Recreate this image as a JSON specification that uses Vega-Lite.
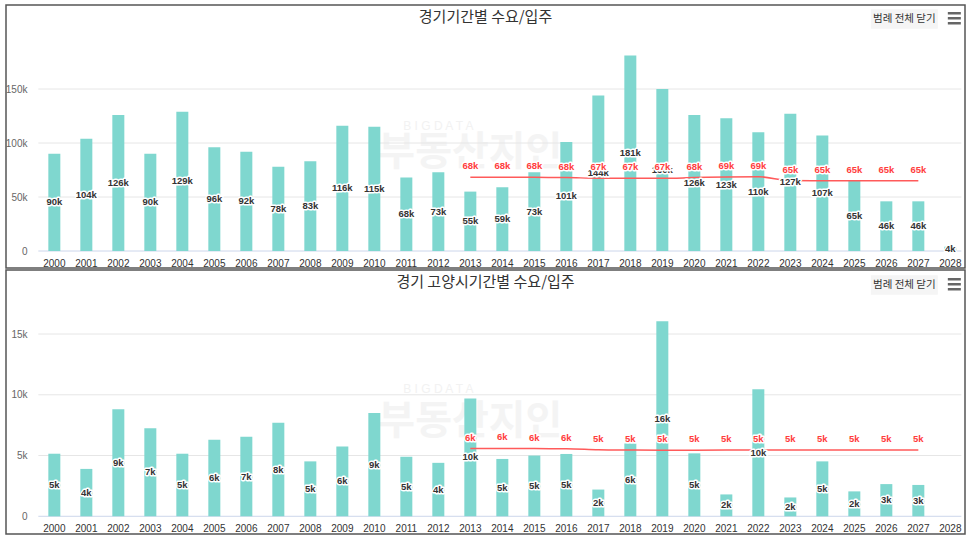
{
  "$schema": "https://vega.github.io/schema/vega-lite/v6.json",
  "padding": {"left": 4, "top": 4, "right": 3, "bottom": 4},
  "background": "white",
  "spacing": 0,
  "config": {
    "view": {"stroke": "#555", "strokeWidth": 1.5, "fill": "white"},
    "font": "Noto Sans CJK KR",
    "title": {"fontSize": 15, "fontWeight": "normal", "color": "#333", "font": "Noto Sans CJK KR", "anchor": "middle", "frame": "group"},
    "axis": {"labelFont": "Liberation Sans", "labelFontSize": 10, "domain": false, "ticks": false, "grid": false, "title": null}
  },
  "datasets": {
    "top": [
      {"year": 2000, "supply": 90000}, {"year": 2001, "supply": 104000}, {"year": 2002, "supply": 126000},
      {"year": 2003, "supply": 90000}, {"year": 2004, "supply": 129000}, {"year": 2005, "supply": 96000},
      {"year": 2006, "supply": 92000}, {"year": 2007, "supply": 78000}, {"year": 2008, "supply": 83000},
      {"year": 2009, "supply": 116000}, {"year": 2010, "supply": 115000}, {"year": 2011, "supply": 68000},
      {"year": 2012, "supply": 73000}, {"year": 2013, "supply": 55000, "demand": 68200},
      {"year": 2014, "supply": 59000, "demand": 68300}, {"year": 2015, "supply": 73000, "demand": 68200},
      {"year": 2016, "supply": 101000, "demand": 68000}, {"year": 2017, "supply": 144000, "demand": 67400},
      {"year": 2018, "supply": 181000, "demand": 67300}, {"year": 2019, "supply": 150000, "demand": 67300},
      {"year": 2020, "supply": 126000, "demand": 68000}, {"year": 2021, "supply": 123000, "demand": 68600},
      {"year": 2022, "supply": 110000, "demand": 68800}, {"year": 2023, "supply": 127000, "demand": 65200},
      {"year": 2024, "supply": 107000, "demand": 65000}, {"year": 2025, "supply": 65000, "demand": 65000},
      {"year": 2026, "supply": 46000, "demand": 65000}, {"year": 2027, "supply": 46000, "demand": 65000},
      {"year": 2028, "supply": 4000}
    ],
    "bottom": [
      {"year": 2000, "supply": 5150}, {"year": 2001, "supply": 3900}, {"year": 2002, "supply": 8800},
      {"year": 2003, "supply": 7250}, {"year": 2004, "supply": 5150}, {"year": 2005, "supply": 6300},
      {"year": 2006, "supply": 6550}, {"year": 2007, "supply": 7700}, {"year": 2008, "supply": 4520},
      {"year": 2009, "supply": 5750}, {"year": 2010, "supply": 8500}, {"year": 2011, "supply": 4900},
      {"year": 2012, "supply": 4400}, {"year": 2013, "supply": 9700, "demand": 5570},
      {"year": 2014, "supply": 4720, "demand": 5580}, {"year": 2015, "supply": 5000, "demand": 5570},
      {"year": 2016, "supply": 5130, "demand": 5560}, {"year": 2017, "supply": 2200, "demand": 5480},
      {"year": 2018, "supply": 6000, "demand": 5450}, {"year": 2019, "supply": 16050, "demand": 5430},
      {"year": 2020, "supply": 5180, "demand": 5440}, {"year": 2021, "supply": 1800, "demand": 5450},
      {"year": 2022, "supply": 10450, "demand": 5460}, {"year": 2023, "supply": 1550, "demand": 5460},
      {"year": 2024, "supply": 4520, "demand": 5460}, {"year": 2025, "supply": 2050, "demand": 5460},
      {"year": 2026, "supply": 2650, "demand": 5460}, {"year": 2027, "supply": 2580, "demand": 5460}
    ]
  },
  "vconcat": [
    {
      "width": 959,
      "height": 263,
      "title": {"text": "경기기간별 수요/입주", "offset": -20},
      "layer": [
        {
          "data": {"name": "top"},
          "mark": {"type": "bar", "color": "#7fd7cf"},
          "encoding": {
            "x": {
              "field": "year", "type": "ordinal",
              "scale": {"domain": [2000,2001,2002,2003,2004,2005,2006,2007,2008,2009,2010,2011,2012,2013,2014,2015,2016,2017,2018,2019,2020,2021,2022,2023,2024,2025,2026,2027,2028], "paddingInner": 0.625, "paddingOuter": 0.797, "align": 0.83},
              "axis": {"orient": "bottom", "offset": -17, "labelPadding": 7, "labelAngle": 0, "labelColor": "#333"}
            },
            "y": {
              "field": "supply", "type": "quantitative",
              "scale": {"domain": [-15740, 227800], "nice": false, "zero": false},
              "axis": {"values": [0, 50000, 100000, 150000], "labelExpr": "datum.value === 0 ? '0' : (datum.value/1000) + 'k'", "offset": -21, "labelPadding": 0, "labelColor": "#666"}
            },
            "y2": {"datum": 0},
            "opacity": {"value": 0}
          }
        },
        {
          "data": {"values": [{"w": "부동산지인"}]},
          "mark": {"type": "text", "fontSize": 40, "fontWeight": "bold", "color": "#f4f4f4"},
          "encoding": {
            "x": {"datum": 2013, "type": "ordinal"},
            "y": {"datum": 90700, "type": "quantitative"},
            "text": {"field": "w"}
          }
        },
        {
          "data": {"values": [{"w": "B I G D A T A"}]},
          "mark": {"type": "text", "fontSize": 12, "color": "#f2f2f2", "font": "Liberation Sans"},
          "encoding": {
            "x": {"datum": 2012, "type": "ordinal"},
            "y": {"datum": 116000, "type": "quantitative"},
            "text": {"field": "w"}
          }
        },
        {
          "data": {"values": [{"t": 0}, {"t": 50000}, {"t": 100000}, {"t": 150000}]},
          "mark": {"type": "rule", "strokeWidth": 1, "xOffset": -16, "x2Offset": 11},
          "encoding": {
            "x": {"datum": 2000, "type": "ordinal"},
            "x2": {"datum": 2028},
            "y": {"field": "t", "type": "quantitative"},
            "color": {"condition": {"test": "datum.t === 0", "value": "#ccd6eb"}, "value": "#e6e6e6"}
          }
        },
        {
          "data": {"name": "top"},
          "mark": {"type": "bar", "color": "#7fd7cf"},
          "encoding": {
            "x": {"field": "year", "type": "ordinal"},
            "y": {"field": "supply", "type": "quantitative"},
            "y2": {"datum": 0}
          }
        },
        {
          "data": {"name": "top"},
          "transform": [{"filter": "isValid(datum.demand)"}],
          "mark": {"type": "line", "color": "#ff5a5a", "strokeWidth": 1.5, "interpolate": "monotone"},
          "encoding": {
            "x": {"field": "year", "type": "ordinal"},
            "y": {"field": "demand", "type": "quantitative"}
          }
        },
        {
          "data": {"name": "top"},
          "transform": [{"calculate": "datum.supply/2", "as": "mid"}, {"calculate": "round(datum.supply/1000)+'k'", "as": "lab"}],
          "mark": {"type": "text", "font": "Liberation Sans", "fontSize": 9.5, "fontWeight": "bold", "color": "white", "stroke": "white", "strokeWidth": 3, "strokeJoin": "round"},
          "encoding": {
            "x": {"field": "year", "type": "ordinal"},
            "y": {"field": "mid", "type": "quantitative"},
            "text": {"field": "lab"}
          }
        },
        {
          "data": {"name": "top"},
          "transform": [{"calculate": "datum.supply/2", "as": "mid"}, {"calculate": "round(datum.supply/1000)+'k'", "as": "lab"}],
          "mark": {"type": "text", "font": "Liberation Sans", "fontSize": 9.5, "fontWeight": "bold", "color": "#333"},
          "encoding": {
            "x": {"field": "year", "type": "ordinal"},
            "y": {"field": "mid", "type": "quantitative"},
            "text": {"field": "lab"}
          }
        },
        {
          "data": {"name": "top"},
          "transform": [{"filter": "isValid(datum.demand)"}, {"calculate": "round(datum.demand/1000)+'k'", "as": "lab"}],
          "mark": {"type": "text", "font": "Liberation Sans", "fontSize": 9.5, "fontWeight": "bold", "dy": -11, "color": "white", "stroke": "white", "strokeWidth": 3, "strokeJoin": "round"},
          "encoding": {
            "x": {"field": "year", "type": "ordinal"},
            "y": {"field": "demand", "type": "quantitative"},
            "text": {"field": "lab"}
          }
        },
        {
          "data": {"name": "top"},
          "transform": [{"filter": "isValid(datum.demand)"}, {"calculate": "round(datum.demand/1000)+'k'", "as": "lab"}],
          "mark": {"type": "text", "font": "Liberation Sans", "fontSize": 9.5, "fontWeight": "bold", "dy": -11, "color": "#ff3d3d"},
          "encoding": {
            "x": {"field": "year", "type": "ordinal"},
            "y": {"field": "demand", "type": "quantitative"},
            "text": {"field": "lab"}
          }
        },
        {
          "data": {"values": [{"b": 1}]},
          "mark": {"type": "point", "filled": true, "opacity": 1, "color": "#f5f5f5", "size": 4489, "xOffset": -14, "shape": "M-1,-0.29L1,-0.29L1,0.29L-1,0.29Z"},
          "encoding": {
            "x": {"datum": 2027, "type": "ordinal"},
            "y": {"datum": 214800, "type": "quantitative"}
          }
        },
        {
          "data": {"values": [{"w": "범례 전체 닫기"}]},
          "mark": {"type": "text", "fontSize": 10.5, "color": "#333", "dx": -14},
          "encoding": {
            "x": {"datum": 2027, "type": "ordinal"},
            "y": {"datum": 214800, "type": "quantitative"},
            "text": {"field": "w"}
          }
        },
        {
          "data": {"values": [{"b": 1}]},
          "mark": {"type": "point", "filled": true, "opacity": 1, "color": "#666", "size": 169, "xOffset": 4, "shape": "M-1,-0.95H1V-0.57H-1Z M-1,-0.19H1V0.19H-1Z M-1,0.57H1V0.95H-1Z"},
          "encoding": {
            "x": {"datum": 2028, "type": "ordinal"},
            "y": {"datum": 215500, "type": "quantitative"}
          }
        }
      ]
    },
    {
      "width": 959,
      "height": 264,
      "title": {"text": "경기 고양시기간별 수요/입주", "offset": -20},
      "layer": [
        {
          "data": {"name": "bottom"},
          "mark": {"type": "bar", "color": "#7fd7cf"},
          "encoding": {
            "x": {
              "field": "year", "type": "ordinal",
              "scale": {"domain": [2000,2001,2002,2003,2004,2005,2006,2007,2008,2009,2010,2011,2012,2013,2014,2015,2016,2017,2018,2019,2020,2021,2022,2023,2024,2025,2026,2027,2028], "paddingInner": 0.625, "paddingOuter": 0.797, "align": 0.83},
              "axis": {"orient": "bottom", "offset": -18, "labelPadding": 7, "labelAngle": 0, "labelColor": "#333"}
            },
            "y": {
              "field": "supply", "type": "quantitative",
              "scale": {"domain": [-1457, 20270], "nice": false, "zero": false},
              "axis": {"values": [0, 5000, 10000, 15000], "labelExpr": "datum.value === 0 ? '0' : (datum.value/1000) + 'k'", "offset": -21, "labelPadding": 0, "labelColor": "#666"}
            },
            "y2": {"datum": 0},
            "opacity": {"value": 0}
          }
        },
        {
          "data": {"values": [{"w": "부동산지인"}]},
          "mark": {"type": "text", "fontSize": 40, "fontWeight": "bold", "color": "#f4f4f4"},
          "encoding": {
            "x": {"datum": 2013, "type": "ordinal"},
            "y": {"datum": 7760, "type": "quantitative"},
            "text": {"field": "w"}
          }
        },
        {
          "data": {"values": [{"w": "B I G D A T A"}]},
          "mark": {"type": "text", "fontSize": 12, "color": "#f2f2f2", "font": "Liberation Sans"},
          "encoding": {
            "x": {"datum": 2012, "type": "ordinal"},
            "y": {"datum": 10500, "type": "quantitative"},
            "text": {"field": "w"}
          }
        },
        {
          "data": {"values": [{"t": 0}, {"t": 5000}, {"t": 10000}, {"t": 15000}]},
          "mark": {"type": "rule", "strokeWidth": 1, "xOffset": -16, "x2Offset": 11},
          "encoding": {
            "x": {"datum": 2000, "type": "ordinal"},
            "x2": {"datum": 2028},
            "y": {"field": "t", "type": "quantitative"},
            "color": {"condition": {"test": "datum.t === 0", "value": "#ccd6eb"}, "value": "#e6e6e6"}
          }
        },
        {
          "data": {"name": "bottom"},
          "mark": {"type": "bar", "color": "#7fd7cf"},
          "encoding": {
            "x": {"field": "year", "type": "ordinal"},
            "y": {"field": "supply", "type": "quantitative"},
            "y2": {"datum": 0}
          }
        },
        {
          "data": {"name": "bottom"},
          "transform": [{"filter": "isValid(datum.demand)"}],
          "mark": {"type": "line", "color": "#ff5a5a", "strokeWidth": 1.5, "interpolate": "monotone"},
          "encoding": {
            "x": {"field": "year", "type": "ordinal"},
            "y": {"field": "demand", "type": "quantitative"}
          }
        },
        {
          "data": {"name": "bottom"},
          "transform": [{"calculate": "datum.supply/2", "as": "mid"}, {"calculate": "round(datum.supply/1000)+'k'", "as": "lab"}],
          "mark": {"type": "text", "font": "Liberation Sans", "fontSize": 9.5, "fontWeight": "bold", "color": "white", "stroke": "white", "strokeWidth": 3, "strokeJoin": "round"},
          "encoding": {
            "x": {"field": "year", "type": "ordinal"},
            "y": {"field": "mid", "type": "quantitative"},
            "text": {"field": "lab"}
          }
        },
        {
          "data": {"name": "bottom"},
          "transform": [{"calculate": "datum.supply/2", "as": "mid"}, {"calculate": "round(datum.supply/1000)+'k'", "as": "lab"}],
          "mark": {"type": "text", "font": "Liberation Sans", "fontSize": 9.5, "fontWeight": "bold", "color": "#333"},
          "encoding": {
            "x": {"field": "year", "type": "ordinal"},
            "y": {"field": "mid", "type": "quantitative"},
            "text": {"field": "lab"}
          }
        },
        {
          "data": {"name": "bottom"},
          "transform": [{"filter": "isValid(datum.demand)"}, {"calculate": "round(datum.demand/1000)+'k'", "as": "lab"}],
          "mark": {"type": "text", "font": "Liberation Sans", "fontSize": 9.5, "fontWeight": "bold", "dy": -11, "color": "white", "stroke": "white", "strokeWidth": 3, "strokeJoin": "round"},
          "encoding": {
            "x": {"field": "year", "type": "ordinal"},
            "y": {"field": "demand", "type": "quantitative"},
            "text": {"field": "lab"}
          }
        },
        {
          "data": {"name": "bottom"},
          "transform": [{"filter": "isValid(datum.demand)"}, {"calculate": "round(datum.demand/1000)+'k'", "as": "lab"}],
          "mark": {"type": "text", "font": "Liberation Sans", "fontSize": 9.5, "fontWeight": "bold", "dy": -11, "color": "#ff3d3d"},
          "encoding": {
            "x": {"field": "year", "type": "ordinal"},
            "y": {"field": "demand", "type": "quantitative"},
            "text": {"field": "lab"}
          }
        },
        {
          "data": {"values": [{"b": 1}]},
          "mark": {"type": "point", "filled": true, "opacity": 1, "color": "#f5f5f5", "size": 4489, "xOffset": -14, "shape": "M-1,-0.29L1,-0.29L1,0.29L-1,0.29Z"},
          "encoding": {
            "x": {"datum": 2027, "type": "ordinal"},
            "y": {"datum": 19040, "type": "quantitative"}
          }
        },
        {
          "data": {"values": [{"w": "범례 전체 닫기"}]},
          "mark": {"type": "text", "fontSize": 10.5, "color": "#333", "dx": -14},
          "encoding": {
            "x": {"datum": 2027, "type": "ordinal"},
            "y": {"datum": 19040, "type": "quantitative"},
            "text": {"field": "w"}
          }
        },
        {
          "data": {"values": [{"b": 1}]},
          "mark": {"type": "point", "filled": true, "opacity": 1, "color": "#666", "size": 169, "xOffset": 4, "shape": "M-1,-0.95H1V-0.57H-1Z M-1,-0.19H1V0.19H-1Z M-1,0.57H1V0.95H-1Z"},
          "encoding": {
            "x": {"datum": 2028, "type": "ordinal"},
            "y": {"datum": 19100, "type": "quantitative"}
          }
        }
      ]
    }
  ]
}
